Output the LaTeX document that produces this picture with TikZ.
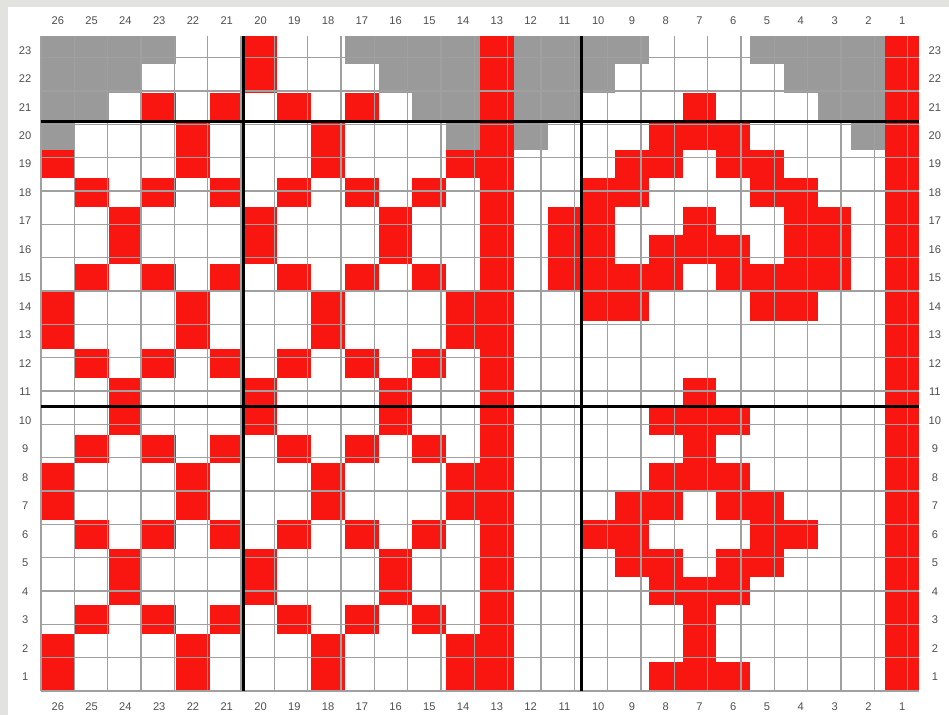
\documentclass[tikz,border=0pt]{standalone}
\usepackage{fontspec}
\setmainfont{Liberation Sans}
\usetikzlibrary{positioning}
\definecolor{StitchRed}{RGB}{250, 22, 16}
\definecolor{NoStitch}{RGB}{154, 154, 154}
\definecolor{GridLine}{RGB}{160, 160, 160}
\definecolor{LabelGrey}{RGB}{80, 80, 80}
\definecolor{FrameBg}{RGB}{226, 226, 222}

\begin{document}
\begin{tikzpicture}[x=10.131mm, y=8.543mm,
    redcell/.style={fill=StitchRed},
    greycell/.style={fill=NoStitch},
    minorline/.style={draw=GridLine, line width=0.45mm},
    majorline/.style={draw=black, line width=0.9mm},
    numlabel/.style={font=\fontsize{9.5}{11}\selectfont, text=LabelGrey, inner sep=0pt}]
  \useasboundingbox (-1.214,-0.843) rectangle (26.888,24.263);
  \fill[FrameBg] (-1.214,-0.843) rectangle (26.888,24.263);
  \fill[white] (-0.977,-0.843) rectangle (26.888,24.017);

  \foreach \r/\cols in {
      23/{26,25,24,23,17,16,15,14,12,11,10,9,5,4,3,2},
      22/{26,25,24,16,15,14,12,11,10,4,3,2},
      21/{26,25,15,14,12,11,3,2},
      20/{26,14,12,2}}
    \foreach \c in \cols
      \fill[greycell] (26-\c,\r-1) rectangle +(1,1);

  \foreach \r/\cols in {
      23/{20,13,1},
      22/{20,13,1},
      21/{23,21,19,17,13,7,1},
      20/{22,18,13,8,7,6,1},
      19/{26,22,18,14,13,9,8,6,5,1},
      18/{25,23,21,19,17,15,13,10,9,5,4,1},
      17/{24,20,16,13,11,10,7,4,3,1},
      16/{24,20,16,13,11,10,8,7,6,4,3,1},
      15/{25,23,21,19,17,15,13,11,10,9,8,6,5,4,3,1},
      14/{26,22,18,14,13,10,9,5,4,1},
      13/{26,22,18,14,13,1},
      12/{25,23,21,19,17,15,13,1},
      11/{24,20,16,13,7,1},
      10/{24,20,16,13,8,7,6,1},
      9/{25,23,21,19,17,15,13,7,1},
      8/{26,22,18,14,13,8,7,6,1},
      7/{26,22,18,14,13,9,8,6,5,1},
      6/{25,23,21,19,17,15,13,10,9,5,4,1},
      5/{24,20,16,13,9,8,6,5,1},
      4/{24,20,16,13,8,7,6,1},
      3/{25,23,21,19,17,15,13,7,1},
      2/{26,22,18,14,13,7,1},
      1/{26,22,18,14,13,8,7,6,1}}
    \foreach \c in \cols
      \fill[redcell] (26-\c,\r-1) rectangle +(1,1);

  \draw[minorline] (0,0) grid (26,23);

  \coordinate (vA-bot) at (6,0);
  \coordinate (vA-top) at (6,23);
  \coordinate (vB-bot) at (16,0);
  \coordinate (vB-top) at (16,23);
  \coordinate (hA-lft) at (0,10);
  \coordinate (hA-rgt) at (26,10);
  \coordinate (hB-lft) at (0,20);
  \coordinate (hB-rgt) at (26,20);
  \draw[majorline] (vA-bot) -- (vA-top);
  \draw[majorline] (vB-bot) -- (vB-top);
  \draw[majorline] (hA-lft) -- (hA-rgt);
  \draw[majorline] (hB-lft) -- (hB-rgt);

  \foreach \c in {1,...,26} {
    \node[numlabel] (top-\c) at (26.5-\c,23.53) {\c};
    \node[numlabel] (bot-\c) at (26.5-\c,-0.56) {\c};
  }
  \foreach \r in {1,...,23} {
    \node[numlabel] (lft-\r) at (-0.47,\r-0.5) {\r};
    \node[numlabel] (rgt-\r) at (26.47,\r-0.5) {\r};
  }
\end{tikzpicture}
\end{document}
